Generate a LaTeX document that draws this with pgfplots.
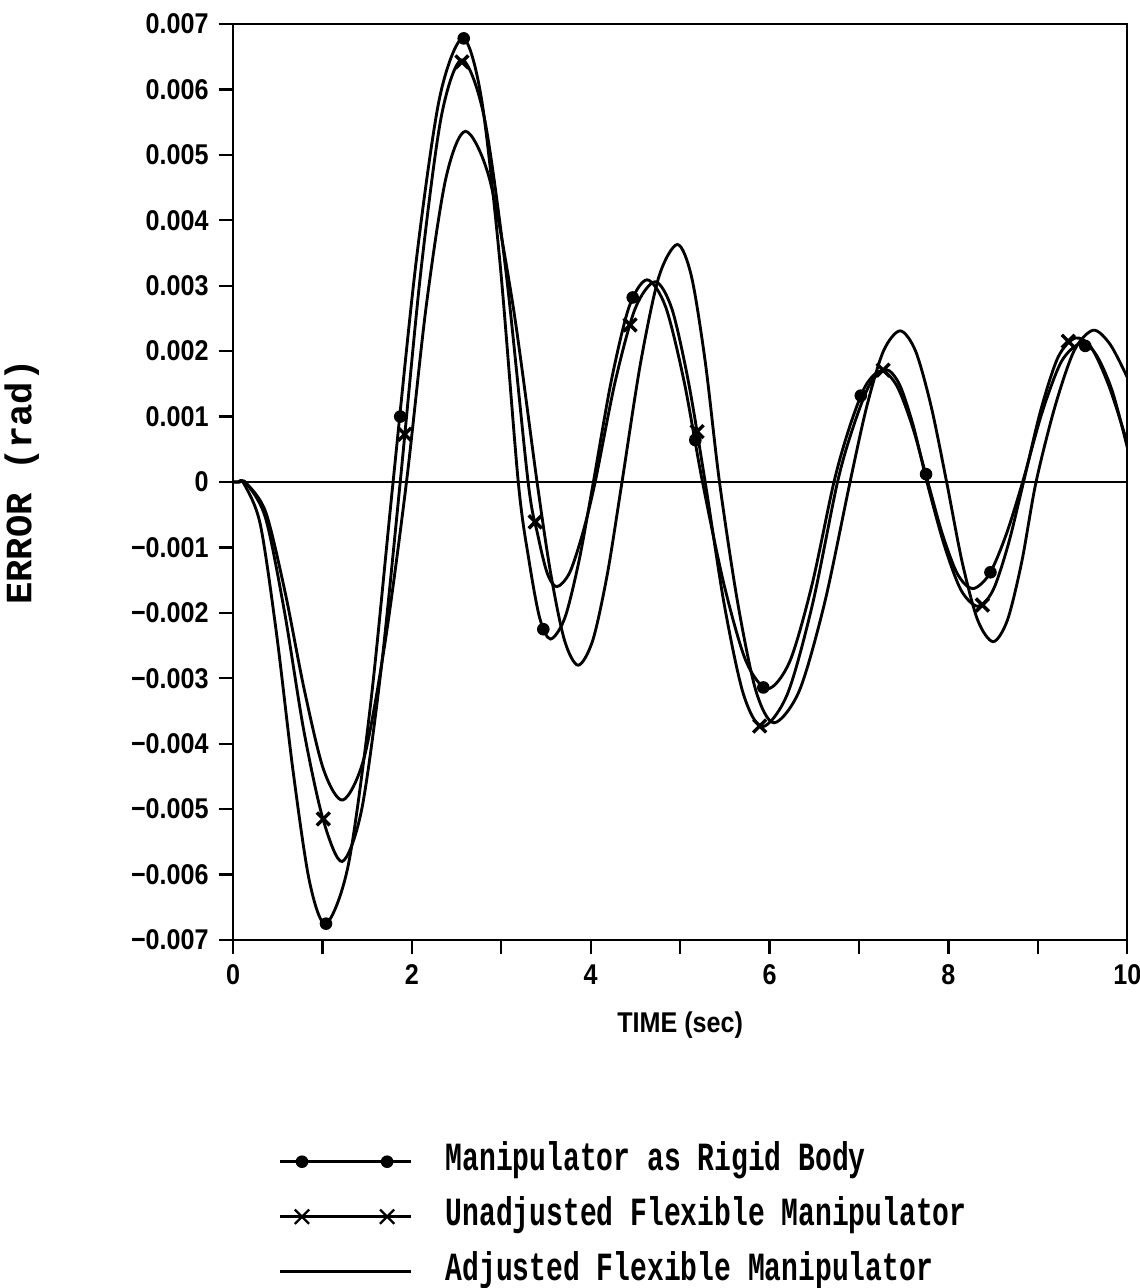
\documentclass[border=0pt]{standalone}
\usepackage{fontspec}
\usepackage{pgfplots}
\usepackage{pgfplotstable}
\pgfplotsset{compat=1.18}
\newfontfamily\tickfont[FakeStretch=0.88]{Liberation Sans}
\newfontfamily\ylabfont{Liberation Mono}
\newfontfamily\legfont[FakeStretch=0.7]{Liberation Mono}

\pgfplotstableread{
t e
0 0
0.06 0
0.12 -0.00002
0.304 -0.00064
0.488 -0.00233
0.672 -0.00442
0.856 -0.00611
1.04 -0.00675
1.29 -0.00585
1.54 -0.00338
1.79 0
2.05 0.00339
2.31 0.00587
2.57 0.00678
2.777 0.00587
2.983 0.00339
3.19 0
3.31 -0.00120
3.43 -0.00208
3.55 -0.00240
3.71 -0.00208
3.87 -0.00120
4.03 0
4.23 0.001545
4.43 0.00268
4.63 0.00309
4.837 0.00268
5.043 0.001545
5.25 0
5.493 -0.00158
5.737 -0.00274
5.98 -0.00316
6.227 -0.00274
6.473 -0.00158
6.72 0
6.897 0.00085
7.073 0.00147
7.25 0.00170
7.423 0.00147
7.597 0.00085
7.77 0
7.937 -0.000815
8.103 -0.00141
8.27 -0.00163
8.457 -0.00141
8.643 -0.000815
8.83 0
9.047 0.00106
9.263 0.00184
9.48 0.00212
9.65 0.00195
9.83 0.00140
10 0.00053
}\rigid

\pgfplotstableread{
t e
1.04 -0.00675
1.87 0.00100
2.58 0.00678
3.47 -0.00225
4.47 0.00282
5.17 0.00064
5.93 -0.00314
7.02 0.00132
7.75 0.00012
8.47 -0.00138
9.53 0.00208
}\rigidmarks

\pgfplotstableread{
t e
0 0
0.07 0
0.15 -0.00002
0.364 -0.00055
0.578 -0.00200
0.792 -0.00380
1.006 -0.00515
1.22 -0.00580
1.437 -0.00502
1.653 -0.00290
1.87 0
2.10 0.00321
2.33 0.00559
2.56 0.00645
2.807 0.00559
3.053 0.00321
3.30 0
3.407 -0.00080
3.513 -0.00139
3.62 -0.00160
3.763 -0.00139
3.907 -0.00080
4.05 0
4.273 0.00153
4.497 0.00265
4.72 0.00306
4.907 0.00265
5.093 0.00153
5.28 0
5.493 -0.00187
5.707 -0.00324
5.92 -0.00374
6.20 -0.00324
6.48 -0.00187
6.76 0
6.94 0.00086
7.12 0.00149
7.30 0.00172
7.453 0.00149
7.607 0.00086
7.76 0
7.95 -0.00095
8.14 -0.00165
8.33 -0.00190
8.50 -0.00165
8.67 -0.00095
8.84 0
9.033 0.00110
9.227 0.00191
9.42 0.00220
9.60 0.00205
9.80 0.00145
10 0.00060
}\unadj

\pgfplotstableread{
t e
1.01 -0.00515
1.92 0.00073
2.56 0.00642
3.38 -0.00061
4.44 0.00240
5.19 0.00077
5.89 -0.00373
7.27 0.00171
8.38 -0.00188
9.34 0.00215
}\unadjmarks

\pgfplotstableread{
t e
0 0
0.07 0
0.15 -0.00002
0.366 -0.00046
0.582 -0.00168
0.798 -0.00318
1.014 -0.00440
1.23 -0.00486
1.467 -0.00421
1.703 -0.00243
1.94 0
2.16 0.00268
2.38 0.00464
2.60 0.00536
2.867 0.00464
3.133 0.00268
3.40 0
3.553 -0.00140
3.707 -0.00242
3.86 -0.00280
4.023 -0.00242
4.187 -0.00140
4.35 0
4.557 0.001815
4.763 0.00314
4.97 0.00363
5.127 0.00314
5.283 0.001815
5.44 0
5.643 -0.00184
5.847 -0.00319
6.05 -0.00368
6.333 -0.00319
6.617 -0.00184
6.90 0
7.087 0.001155
7.273 0.00200
7.46 0.00231
7.633 0.00200
7.807 0.001155
7.98 0
8.153 -0.00122
8.327 -0.00211
8.50 -0.00244
8.66 -0.00211
8.82 -0.00122
8.98 0
9.193 0.00116
9.407 0.00201
9.62 0.00232
9.81 0.00210
10 0.00160
}\adj

\begin{document}
\begin{tikzpicture}
\useasboundingbox (-81.55pt,-121.8pt) rectangle (317.2pt,329pt);
\begin{axis}[
  at={(0pt,0pt)}, anchor=south west,
  scale only axis, width=313pt, height=320.6pt,
  xmin=0, xmax=10, ymin=-0.007, ymax=0.007,
  xtick={0,1,2,3,4,5,6,7,8,9,10},
  xticklabels={0,,2,,4,,6,,8,,10},
  ytick={-0.007,-0.006,-0.005,-0.004,-0.003,-0.002,-0.001,0,0.001,0.002,0.003,0.004,0.005,0.006,0.007},
  yticklabels={−0.007,−0.006,−0.005,−0.004,−0.003,−0.002,−0.001,0,0.001,0.002,0.003,0.004,0.005,0.006,0.007},
  scaled y ticks=false,
  tick align=outside, major tick length=5pt,
  xtick pos=lower, ytick pos=left,
  axis line style={line width=0.8pt},
  every tick/.style={black, line width=0.8pt},
  ticklabel style={font=\tickfont\bfseries\fontsize{10}{12}\selectfont},
  xlabel={TIME (sec)},
  xlabel style={font=\tickfont\bfseries\fontsize{10}{12}\selectfont, at={(axis description cs:0.5,-0.0928)}, anchor=center},
  ylabel={ERROR (rad)},
  ylabel style={font=\ylabfont\bfseries\fontsize{13}{15}\selectfont, at={(axis description cs:-0.2361,0.5)}, anchor=center},
  legend style={draw=none, fill=none, at={(axis description cs:0.0503,-0.2258)}, anchor=north west,
    font=\legfont\bfseries\fontsize{14}{16}\selectfont, row sep=9.25pt, inner sep=0pt,
    nodes={inner sep=0pt, text height=8pt, text depth=2pt},
    /tikz/every odd column/.append style={column sep=11.5pt}},
  legend cell align=left,
]
\addplot[black, line width=0.5pt, forget plot] coordinates {(0,0) (10,0)};
\addplot[black, line width=1pt, smooth, no marks, forget plot] table[x=t,y=e] {\rigid};
\addplot[black, only marks, mark=*, mark size=2pt, forget plot] table[x=t,y=e] {\rigidmarks};
\addplot[black, line width=1pt, smooth, no marks, forget plot] table[x=t,y=e] {\unadj};
\addplot[black, only marks, mark=x, mark size=3.2pt, mark options={line width=1.2pt}, forget plot] table[x=t,y=e] {\unadjmarks};
\addplot[black, line width=1pt, smooth, no marks, forget plot] table[x=t,y=e] {\adj};
\addlegendimage{legend image code/.code={
  \draw[black, line width=1pt] (0pt,0pt) -- (46pt,0pt);
  \fill[black] (7.7pt,0pt) circle (2pt);
  \fill[black] (37.5pt,0pt) circle (2pt);}}
\addlegendentry{Manipulator as Rigid Body}
\addlegendimage{legend image code/.code={
  \draw[black, line width=1pt] (0pt,0pt) -- (46pt,0pt);
  \draw[black, line width=0.8pt] (5.2pt,-2.5pt) -- (10.2pt,2.5pt) (5.2pt,2.5pt) -- (10.2pt,-2.5pt);
  \draw[black, line width=0.8pt] (35pt,-2.5pt) -- (40pt,2.5pt) (35pt,2.5pt) -- (40pt,-2.5pt);}}
\addlegendentry{Unadjusted Flexible Manipulator}
\addlegendimage{legend image code/.code={
  \draw[black, line width=1pt] (0pt,0pt) -- (46pt,0pt);}}
\addlegendentry{Adjusted Flexible Manipulator}
\end{axis}
\end{tikzpicture}
\end{document}
